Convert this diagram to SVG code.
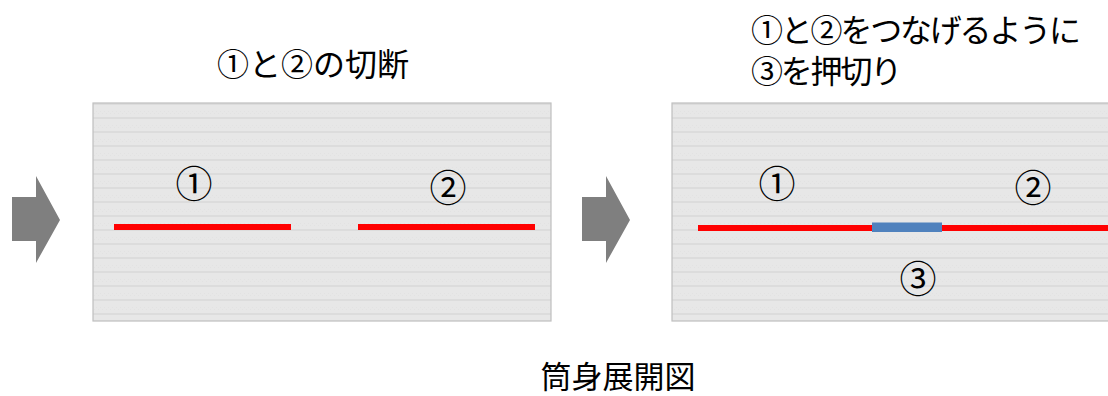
<svg xmlns="http://www.w3.org/2000/svg" width="1108" height="396" viewBox="0 0 1108 396">
<style>
.t{font-family:"Noto Sans CJK JP","Noto Sans CJK SC",sans-serif;font-size:32px;fill:#000}
.n{font-family:"Noto Sans CJK JP","Noto Sans CJK SC",sans-serif;font-size:37px;fill:#000;text-anchor:middle}
.r{letter-spacing:-2.2px}
.panel{fill:url(#stripes);stroke:#bfbfbf;stroke-width:1.2}
.arrow{fill:#7f7f7f}
.red{stroke:#ff0000;stroke-width:6;fill:none}
</style>
<defs>
<pattern id="stripes" patternUnits="userSpaceOnUse" x="0" y="111" width="4" height="14">
<rect width="4" height="14" fill="#e7e7e7"/>
<rect x="0" y="0" width="1" height="1" fill="#e2e2e2"/>
<rect x="2" y="2" width="1" height="1" fill="#e2e2e2"/>
<rect x="0" y="6" width="4" height="2" fill="#dcdcdc"/>
</pattern>
</defs>
<rect width="1108" height="396" fill="#ffffff"/>
<g id="arrow1"><polygon class="arrow" points="12,197 36,197 36,176 60,220 36,263 36,241 12,241"/></g>
<g id="arrow2"><polygon class="arrow" points="582,197 606,197 606,176 630,220 606,263 606,241 582,241"/></g>
<g id="panel-left">
<rect class="panel" x="93" y="103" width="458" height="218"/>
<text class="t" x="313" y="76" text-anchor="middle">①と②の切断</text>
<text class="n" x="194" y="198">①</text>
<text class="n" x="448" y="202">②</text>
</g>
<g id="panel-right">
<rect class="panel" x="672" y="103" width="440" height="218"/>
<text class="t r" x="751" y="42">①と②をつなげるように</text>
<text class="t r" x="751" y="83">③を押切り</text>
<text class="n" x="777" y="198">①</text>
<text class="n" x="1033" y="202">②</text>
<text class="n" x="918" y="293">③</text>
</g>
<g id="connectors">
<line class="red" x1="114" y1="227" x2="291" y2="227"/>
<line class="red" x1="358" y1="227" x2="535" y2="227"/>
<line class="red" x1="698" y1="228" x2="875" y2="228"/>
<line class="red" x1="942" y1="228" x2="1108" y2="228"/>
<rect id="blade" x="872" y="222.5" width="70" height="9.5" fill="#4f81bd"/>
</g>
<g id="caption"><text class="t" x="618" y="388" text-anchor="middle" style="font-size:31px">筒身展開図</text></g>
</svg>
